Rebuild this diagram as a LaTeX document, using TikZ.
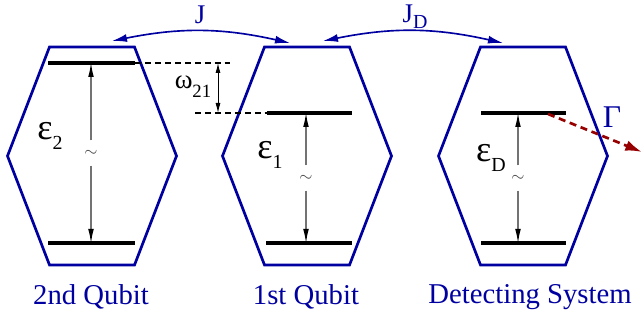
\documentclass[tikz,border=0pt]{standalone}
\usepackage{fontspec}
\setmainfont{Liberation Serif}
\usetikzlibrary{arrows.meta, positioning, calc}
\definecolor{qblue}{RGB}{0,0,160}
\definecolor{qred}{RGB}{150,0,0}
\newcommand{\levlbl}[2]{#1\raisebox{-9pt}{\fontsize{17}{17}\selectfont #2}}
\tikzset{
  qhex/.style={draw=qblue, line width=2.3pt, line join=miter},
  qlevel/.style={black, line width=3pt},
  qdash/.style={black, line width=1.9pt, dash pattern=on 5pt off 3.5pt},
  qgap/.style={draw=black!55, line width=0.9pt, -{Latex[black, length=4.2mm, width=1.7mm]}},
  qomega/.style={black, line width=0.8pt, {Latex[length=3mm, width=1.5mm]}-{Latex[length=3mm, width=1.5mm]}},
  qlink/.style={qblue, line width=1.4pt, {Latex[length=4.5mm, width=2.4mm]}-{Latex[length=4.5mm, width=2.4mm]}},
  qdecay/.style={qred, line width=2.3pt, dash pattern=on 6pt off 4pt, -{Latex[length=5mm, width=3.2mm]}},
  qname/.style={text=qblue, font=\fontsize{24.5}{28}\selectfont, inner sep=0pt},
  qsym/.style={font=\fontsize{31}{33}\selectfont, inner sep=0pt},
  qtilde/.style={text=black!75, font=\fontsize{15}{16}\selectfont, inner sep=0pt, minimum height=7.5mm},
}
\begin{document}
\begin{tikzpicture}[x=0.03cm, y=-0.03cm]
  \useasboundingbox (0,0) rectangle (642,321);
  % the three wells
  \foreach \cx in {92, 307, 523}{
    \draw[qhex] (\cx-42.5,47) -- (\cx+42.5,47) -- (\cx+84.5,156) -- (\cx+42.5,265)
      -- (\cx-42.5,265) -- (\cx-84.5,156) -- cycle;
  }
  % levels
  \coordinate (twoUpL) at (48,63);   \coordinate (twoUpR) at (135,63);
  \coordinate (twoLoL) at (48,243);  \coordinate (twoLoR) at (135,243);
  \coordinate (oneUpL) at (267,113); \coordinate (oneUpR) at (352,113);
  \coordinate (oneLoL) at (266,243); \coordinate (oneLoR) at (352,243);
  \coordinate (detUpL) at (481,113); \coordinate (detUpR) at (566,113);
  \coordinate (detLoL) at (481,243); \coordinate (detLoR) at (566,243);
  \draw[qlevel] (twoUpL) -- (twoUpR);
  \draw[qlevel] (twoLoL) -- (twoLoR);
  \draw[qlevel] (oneUpL) -- (oneUpR);
  \draw[qlevel] (oneLoL) -- (oneLoR);
  \draw[qlevel] (detUpL) -- (detUpR);
  \draw[qlevel] (detLoL) -- (detLoR);

  % level spacings
  \node[qtilde] (twoT) at (91,153) {$\sim$};
  \node[qtilde] (oneT) at (306,178) {$\sim$};
  \node[qtilde] (detT) at (518,178) {$\sim$};
  \draw[qgap] (twoT.north) -- (twoT |- twoUpL);
  \draw[qgap] (twoT.south) -- (twoT |- twoLoL);
  \draw[qgap] (oneT.north) -- (oneT |- oneUpL);
  \draw[qgap] (oneT.south) -- (oneT |- oneLoL);
  \draw[qgap] (detT.north) -- (detT |- detUpL);
  \draw[qgap] (detT.south) -- (detT |- detLoL);
  \node[qsym] (twoE) at (50,136) {\levlbl{ε}{2}};
  \node[qsym] (oneE) at (270,155) {\levlbl{ε}{1}};
  \node[qsym] (detE) at (491,158) {\levlbl{ε}{D}};

  % detuning
  \coordinate (wTop) at (233,63);
  \coordinate (wBot) at (195,113);
  \draw[qdash] (twoUpR) -- (wTop);
  \draw[qdash] (wBot) -- (oneUpL);
  \draw[qomega] (218,63) -- (218,113);
  \node[font=\fontsize{23}{24}\selectfont, inner sep=0pt] (wLbl) at (193,87)
    {ω\raisebox{-7.5pt}{\fontsize{16}{16}\selectfont 21}};

  % couplings
  \coordinate (jA) at (112,41);  \coordinate (jB) at (290,43);
  \coordinate (jdA) at (323,41); \coordinate (jdB) at (503,43);
  \draw[qlink] (jA) to[bend left=12] (jB);
  \draw[qlink] (jdA) to[bend left=12] (jdB);
  \node[text=qblue, font=\fontsize{23}{24}\selectfont, inner sep=0pt] (jLbl) at (200,15) {J};
  \node[text=qblue, font=\fontsize{23}{24}\selectfont, inner sep=0pt] (jdLbl) at (415,17)
    {J\raisebox{-5pt}{\fontsize{17}{17}\selectfont D}};

  % decay
  \coordinate (gStart) at (548,114);
  \coordinate (gEnd) at (642,152);
  \draw[qdecay] (gStart) -- (gEnd);
  \node[text=qblue, font=\fontsize{27}{28}\selectfont, inner sep=0pt] (gLbl) at (612,117) {Γ};

  % names
  \node[qname] (twoName) at (91,297) {2nd Qubit};
  \node[qname] (oneName) at (306,297) {1st Qubit};
  \node[qname] (detName) at (530,297) {Detecting System};
\end{tikzpicture}
\end{document}
